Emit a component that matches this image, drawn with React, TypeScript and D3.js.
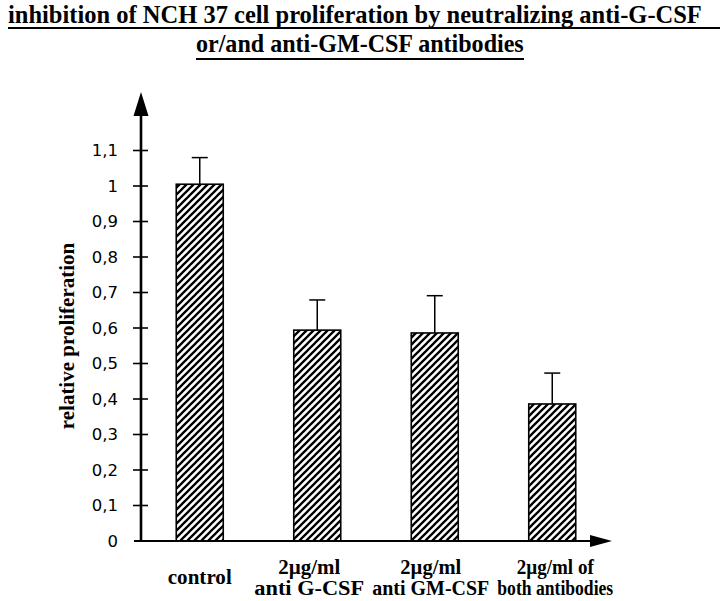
import React, { useLayoutEffect, useRef, useState } from "react";
import * as d3 from "d3";

const categories = ["control", "anti G-CSF", "anti GM-CSF", "both"];
const labelLines: string[][] = [
  ["control"],
  ["2\u00b5g/ml", "anti G-CSF"],
  ["2\u00b5g/ml", "anti GM-CSF"],
  ["2\u00b5g/ml of", "both antibodies"],
];
const values = [1.005, 0.594, 0.586, 0.386];
const errors = [0.075, 0.085, 0.105, 0.087];
const yTicks = [0, 0.1, 0.2, 0.3, 0.4, 0.5, 0.6, 0.7, 0.8, 0.9, 1, 1.1];
const titleLines = [
  "inhibition of NCH 37 cell proliferation by neutralizing anti-G-CSF",
  "or/and anti-GM-CSF antibodies",
];

const W = 720;
const H = 601;
const serif = "'Liberation Serif', 'Times New Roman', serif";
const sans = "'DejaVu Sans', Verdana, sans-serif";

// layout styling (not data)
const labelDx = [0, -8, -4, 3];
const labelWidths: number[][] = [[64], [62, 110], [61, 117], [77, 116]];

type FitProps = {
  x: number;
  y: number;
  width: number;
  anchor?: "start" | "middle" | "end";
  fontSize: number;
  fontFamily: string;
  fontWeight?: string;
  children: string;
};

function FitText({ x, y, width, anchor = "start", fontSize, fontFamily, fontWeight, children }: FitProps) {
  const ref = useRef<SVGTextElement>(null);
  const [s, setS] = useState(1);
  useLayoutEffect(() => {
    if (ref.current) {
      const w = ref.current.getComputedTextLength();
      if (w > 0) setS(width / w);
    }
  }, [width, children]);
  return (
    <text
      ref={ref}
      transform={`translate(${x},${y}) scale(${s},1)`}
      textAnchor={anchor}
      fontSize={fontSize}
      fontFamily={fontFamily}
      fontWeight={fontWeight}
    >
      {children}
    </text>
  );
}

export default function App() {
  const x0 = 141;
  const x = d3
    .scaleBand<string>()
    .domain(categories)
    .range([x0, 611])
    .paddingInner(0.6)
    .paddingOuter(0.3);
  const y = d3.scaleLinear().domain([0, 1.1]).range([541, 150.5]);
  const fmt = (v: number) => (v === 0 ? "0" : d3.format("~g")(+v.toFixed(1)).replace(".", ","));
  const yBase = y(0);

  return (
    <svg
      width={W}
      height={H}
      style={{ position: "absolute", left: 0, top: 0, background: "#fff" }}
    >
      <defs>
        <pattern id="hatch" patternUnits="userSpaceOnUse" width={7} height={7}>
          <path d="M-1,1 l2,-2 M0,7 l7,-7 M6,8 l2,-2" stroke="#000" strokeWidth={2.3} />
        </pattern>
      </defs>
      <rect width={W} height={H} fill="#fff" />

      {/* Title */}
      <FitText x={8} y={23} width={694} fontSize={25} fontFamily={serif} fontWeight="bold">
        {titleLines[0]}
      </FitText>
      <line x1={8} x2={720} y1={28} y2={28} stroke="#000" strokeWidth={2} />
      <FitText x={196} y={52} width={328} fontSize={25} fontFamily={serif} fontWeight="bold">
        {titleLines[1]}
      </FitText>
      <line x1={196} x2={524} y1={59} y2={59} stroke="#000" strokeWidth={2} />

      {/* Bars */}
      {categories.map((c, i) => {
        const bx = x(c)!;
        const bw = x.bandwidth();
        const cx = bx + bw / 2;
        const top = y(values[i]);
        const et = y(values[i] + errors[i]);
        return (
          <g key={c}>
            <line x1={cx} x2={cx} y1={top} y2={et} stroke="#000" strokeWidth={1.5} />
            <line x1={cx - 8} x2={cx + 8} y1={et} y2={et} stroke="#000" strokeWidth={1.5} />
            <rect
              x={bx}
              y={top}
              width={bw}
              height={yBase - top}
              fill="url(#hatch)"
              stroke="#000"
              strokeWidth={1.6}
            />
          </g>
        );
      })}

      {/* Y axis */}
      <line x1={x0} x2={x0} y1={yBase + 1} y2={112} stroke="#000" strokeWidth={2.6} />
      <path d={`M${x0},92 L${x0 + 7.5},116 L${x0 - 7.5},116 Z`} fill="#000" />
      {yTicks.map((t) => (
        <g key={t}>
          {t > 0 && (
            <line x1={x0 - 8} x2={x0 + 7} y1={y(t)} y2={y(t)} stroke="#000" strokeWidth={1.6} />
          )}
          <text
            x={118}
            y={y(t)}
            dy="0.36em"
            textAnchor="end"
            fontFamily={sans}
            fontSize={16.5}
          >
            {fmt(t)}
          </text>
        </g>
      ))}

      {/* X axis */}
      <line x1={134} x2={595} y1={yBase} y2={yBase} stroke="#000" strokeWidth={2} />
      <path d={`M612,${yBase} L590,${yBase - 6} L590,${yBase + 6} Z`} fill="#000" />

      {/* X labels */}
      {categories.map((c, i) => {
        const cx = x(c)! + x.bandwidth() / 2 + labelDx[i];
        const lines = labelLines[i];
        return (
          <g key={c}>
            {lines.map((l, j) => (
              <FitText
                key={j}
                x={cx}
                y={lines.length === 1 ? 584 : 574 + j * 21}
                width={labelWidths[i][j]}
                anchor="middle"
                fontSize={20}
                fontFamily={serif}
                fontWeight="bold"
              >
                {l}
              </FitText>
            ))}
          </g>
        );
      })}

      {/* Y label */}
      <text
        transform={`translate(74,336) rotate(-90)`}
        textAnchor="middle"
        fontFamily={serif}
        fontWeight="bold"
        fontSize={21}
      >
        relative proliferation
      </text>
    </svg>
  );
}
